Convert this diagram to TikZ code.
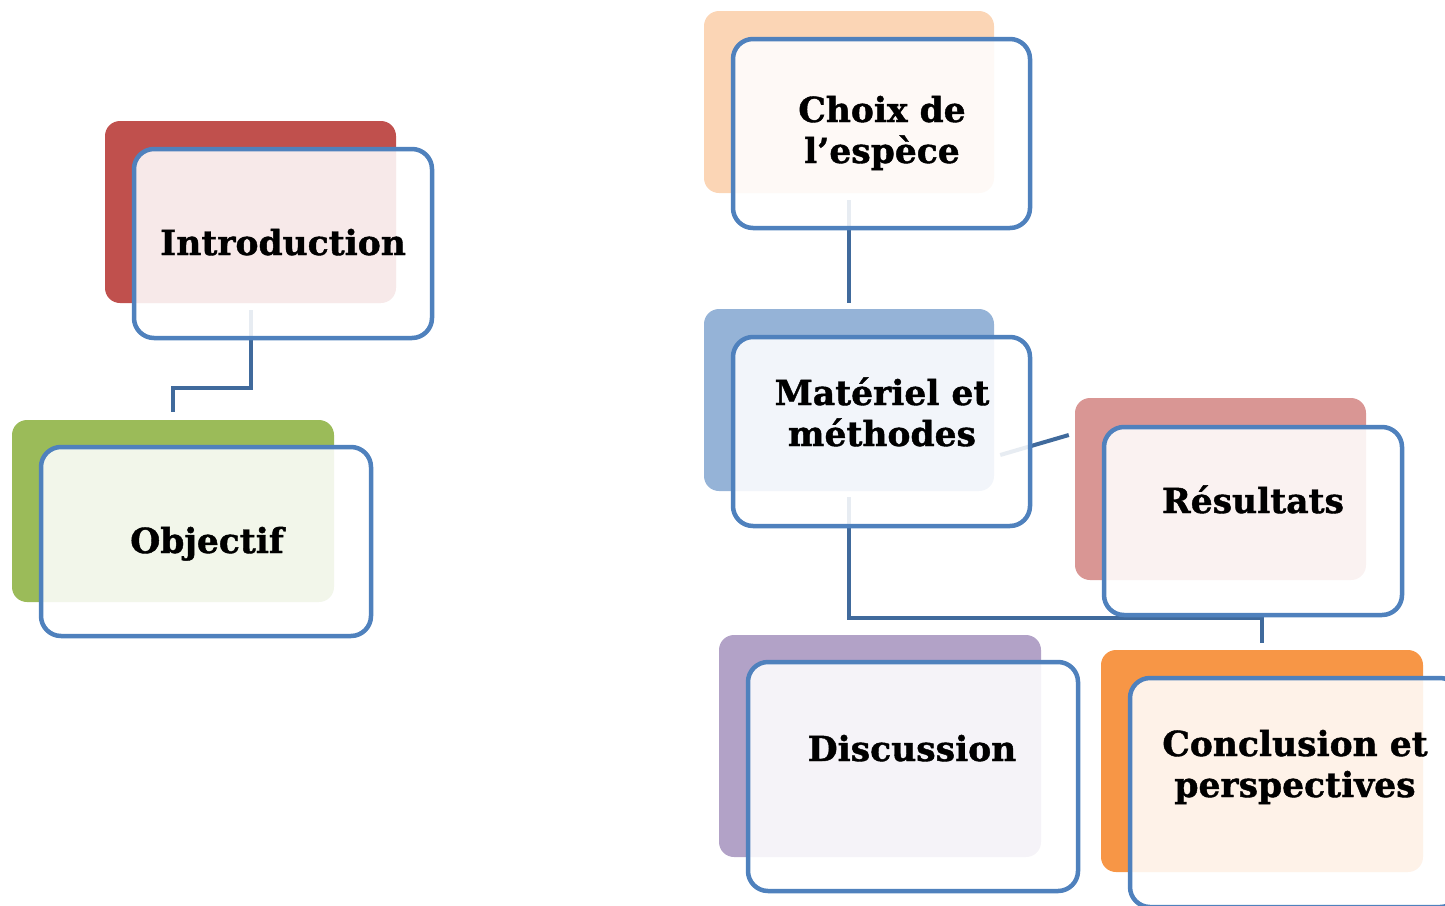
\documentclass[tikz,border=0pt]{standalone}
\usepackage{fontspec}
\setmainfont{DejaVu Serif}
\newfontfamily\labfont{DejaVu Serif Bold}[FakeBold=1.2]
\usetikzlibrary{calc}
\definecolor{bordc}{HTML}{4F81BD}
\definecolor{connc}{RGB}{64,106,156}
\definecolor{cred}{HTML}{C0504D}
\definecolor{cgreen}{HTML}{9BBB59}
\definecolor{cpeach}{HTML}{FBD5B5}
\definecolor{cblue}{HTML}{95B3D7}
\definecolor{cpink}{HTML}{D99694}
\definecolor{cpurple}{HTML}{B2A2C7}
\definecolor{corange}{HTML}{F79646}
\begin{document}
\begin{tikzpicture}[x=1pt,y=-1pt,
  backbox/.style={rectangle, rounded corners=15pt, inner sep=0pt, draw=none},
  frontbox/.style={rectangle, rounded corners=20pt, draw=bordc, line width=4.5pt, fill=white, fill opacity=0.88, inner sep=0pt},
  conn/.style={draw=connc, line width=4pt},
  lab/.style={font=\fontsize{34.5}{41}\labfont, align=center, anchor=base, text=black, inner sep=0pt}]
\clip (0,0) rectangle (1445,905);
% back boxes
\node[backbox, fill=cred, minimum width=291pt, minimum height=182pt] (introB) at (250.5,212) {};
\node[backbox, fill=cgreen, minimum width=322pt, minimum height=182pt] (objB) at (173,511) {};
\node[backbox, fill=cpeach, minimum width=290pt, minimum height=182pt] (choixB) at (849,102) {};
\node[backbox, fill=cblue, minimum width=290pt, minimum height=182pt] (matB) at (849,400) {};
\node[backbox, fill=cpink, minimum width=291pt, minimum height=182pt] (resB) at (1220.5,489) {};
\node[backbox, fill=cpurple, minimum width=322pt, minimum height=222pt] (discB) at (880,746) {};
\node[backbox, fill=corange, minimum width=322pt, minimum height=222pt] (concB) at (1262,761) {};
% connectors
\draw[conn] ($(introB.south)+(0,7)$) -- ++(0,78) -| ($(objB.north)+(0,-8)$);
\draw[conn] ($(choixB.south)+(0,7)$) -- ($(matB.north)+(0,-6)$);
\draw[conn] ($(matB.east)+(6,55)$) -- ($(resB.west)+(-6,-54)$);
\draw[conn] ($(matB.south)+(0,6)$) -- ++(0,121) -| ($(concB.north)+(0,-7)$);
% front boxes
\node[frontbox, minimum width=298pt, minimum height=189pt] (introF) at (283,243.5) {};
\node[frontbox, minimum width=330pt, minimum height=189pt] (objF) at (206,541.5) {};
\node[frontbox, minimum width=297pt, minimum height=189pt] (choixF) at (881.5,133.5) {};
\node[frontbox, minimum width=297pt, minimum height=189pt] (matF) at (881.5,431.5) {};
\node[frontbox, minimum width=298pt, minimum height=188pt] (resF) at (1253,521) {};
\node[frontbox, minimum width=330pt, minimum height=229pt] (discF) at (913,776.5) {};
\node[frontbox, minimum width=330pt, minimum height=229pt] (concF) at (1295,792.5) {};
% texts
\node[lab] (introT) at (283,255) {Introduction};
\node[lab] (objT) at (207,553) {Objectif};
\node[lab] (choixT) at (882,163) {Choix de\\l’espèce};
\node[lab] (matT) at (882,446) {Matériel et\\méthodes};
\node[lab] (resT) at (1253,513) {Résultats};
\node[lab] (discT) at (912,761) {Discussion};
\node[lab] (concT) at (1295,797) {Conclusion et\\perspectives};
\end{tikzpicture}
\end{document}
